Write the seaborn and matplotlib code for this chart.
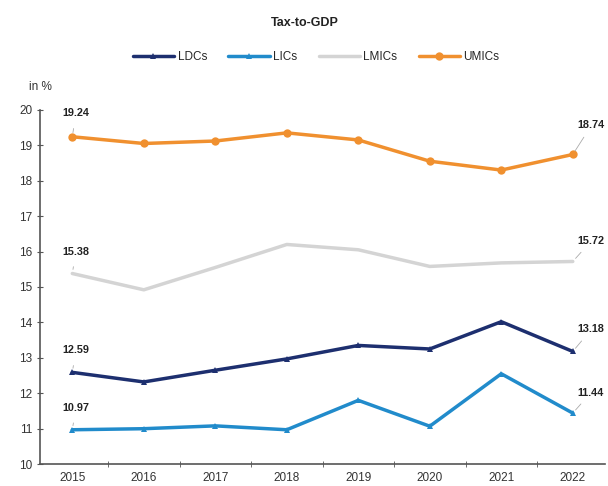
import matplotlib
matplotlib.use('Agg')
import matplotlib.pyplot as plt
import seaborn as sns
import pandas as pd

years = ['2015', '2016', '2017', '2018', '2019', '2020', '2021', '2022']
ldcs = [12.59, 12.32, 12.65, 12.97, 13.35, 13.25, 14.02, 13.18]
lics = [10.97, 11.00, 11.08, 10.97, 11.80, 11.07, 12.55, 11.44]
lmics = [15.38, 14.92, 15.55, 16.20, 16.05, 15.58, 15.68, 15.72]
umics = [19.24, 19.05, 19.12, 19.35, 19.15, 18.55, 18.30, 18.74]

series = {'LDCs': ldcs, 'LICs': lics, 'LMICs': lmics, 'UMICs': umics}
colors = {'LDCs': '#1d2f6f', 'LICs': '#218bcb', 'LMICs': '#d4d4d4', 'UMICs': '#f0902f'}
markers = {'LDCs': '^', 'LICs': '^', 'LMICs': None, 'UMICs': 'o'}
msizes = {'LDCs': 4, 'LICs': 4, 'LMICs': 0, 'UMICs': 6}
# label offsets (in data units) for first and last point
first_dy = {'LDCs': 0.62, 'LICs': 0.62, 'LMICs': 0.62, 'UMICs': 0.66}
last_dy = {'LDCs': 0.62, 'LICs': 0.58, 'LMICs': 0.58, 'UMICs': 0.82}

sns.set_style('white')
plt.rcParams['font.family'] = ['Liberation Sans Narrow', 'Liberation Sans', 'DejaVu Sans']

rows = []
for name, vals in series.items():
    for i, v in enumerate(vals):
        rows.append({'x': i, 'year': years[i], 'value': v, 'series': name})
df = pd.DataFrame(rows)

fig = plt.figure(figsize=(6.08, 4.86), dpi=100)
ax = fig.add_axes([0.066, 0.045, 0.929, 0.729])

for name in series:
    sub = df[df['series'] == name]
    sns.lineplot(data=sub, x='x', y='value', ax=ax, color=colors[name], linewidth=2.5,
                 marker=markers[name], markersize=msizes[name], markeredgewidth=0,
                 label=name, legend=False)

ax.set_xlim(-0.45, 7.45)
ax.set_ylim(10, 20)
ax.set_yticks(range(10, 21))
ax.set_xticks(range(len(years)))
ax.set_xticklabels(years)
ax.set_xticks([i + 0.5 for i in range(len(years) - 1)], minor=True)
ax.tick_params(axis='x', which='major', length=0, labelsize=8.5, pad=6, colors='#333')
ax.tick_params(axis='x', which='minor', length=4, direction='inout', color='#555', bottom=True)
ax.tick_params(axis='y', length=4, direction='inout', labelsize=8.5, color='#555', labelcolor='#333', left=True)
ax.set_xlabel('')
ax.set_ylabel('')
for s in ['top', 'right']:
    ax.spines[s].set_visible(False)
for s in ['left', 'bottom']:
    ax.spines[s].set_color('#555')
    ax.spines[s].set_linewidth(1.2)

# value labels on first and last points
for name, vals in series.items():
    v0 = vals[0]
    ax.annotate(f'{v0:.2f}', xy=(0, v0), xytext=(0.05, v0 + first_dy[name]), fontsize=7.8,
                fontweight='bold', color='#222', ha='center', va='center',
                arrowprops=dict(arrowstyle='-', color='#aaa', lw=0.6, shrinkA=5, shrinkB=3))
    v1 = vals[-1]
    ax.annotate(f'{v1:.2f}', xy=(7, v1), xytext=(7.07, v1 + last_dy[name]), fontsize=7.8,
                fontweight='bold', color='#222', ha='left', va='center',
                arrowprops=dict(arrowstyle='-', color='#aaa', lw=0.6, shrinkA=3, shrinkB=3))

fig.text(0.502, 0.953, 'Tax-to-GDP', ha='center', va='center', fontsize=9, fontweight='bold', color='#222')
fig.text(0.048, 0.82, 'in %', ha='left', va='center', fontsize=8.5, color='#333')

handles, labels = ax.get_legend_handles_labels()
fig.legend(handles, labels, loc='center', bbox_to_anchor=(0.52, 0.882), ncol=4, frameon=False,
           fontsize=8.5, handlelength=3.5, columnspacing=1.8, handletextpad=0.3)

plt.savefig('out.png', dpi=100)
plt.close()
